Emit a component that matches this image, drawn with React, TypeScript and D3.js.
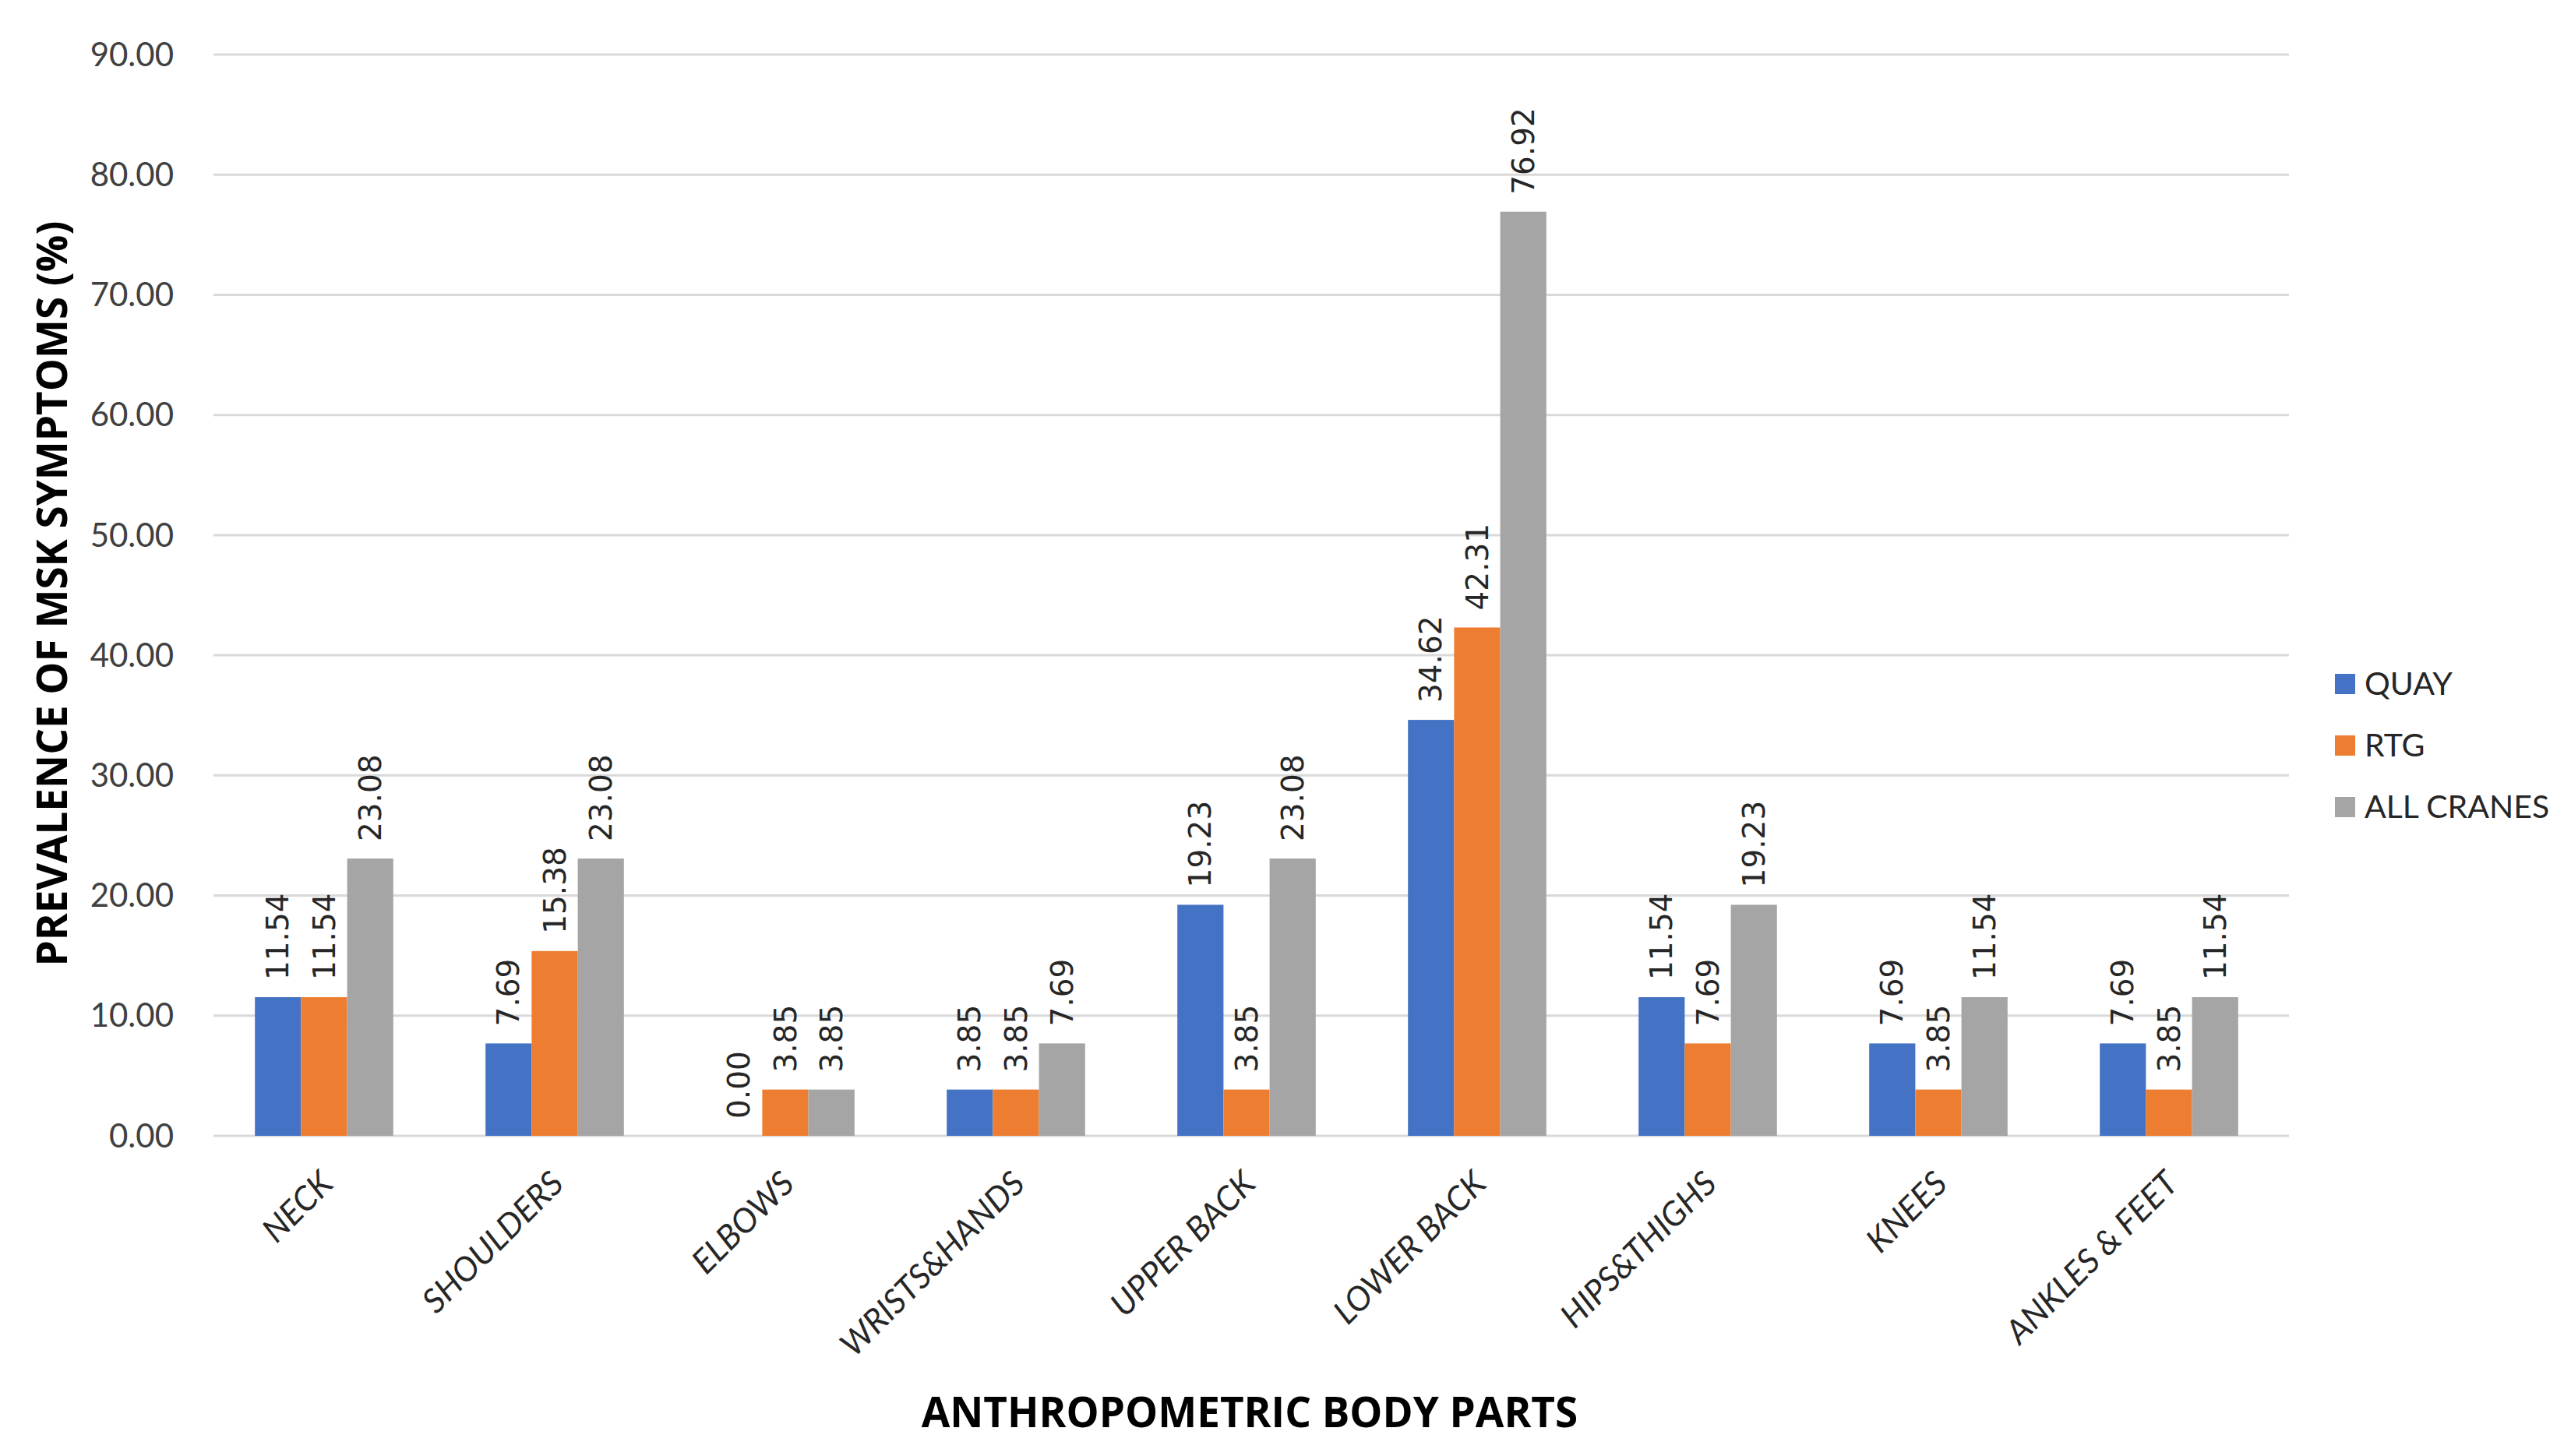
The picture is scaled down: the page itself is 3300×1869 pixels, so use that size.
import React from "react";
import * as d3 from "d3";

const categories = ["NECK", "SHOULDERS", "ELBOWS", "WRISTS&HANDS", "UPPER BACK", "LOWER BACK", "HIPS&THIGHS", "KNEES", "ANKLES & FEET"];
const seriesNames = ["QUAY", "RTG", "ALL CRANES"];
const quay = [11.54, 7.69, 0.0, 3.85, 19.23, 34.62, 11.54, 7.69, 7.69];
const rtg = [11.54, 15.38, 3.85, 3.85, 3.85, 42.31, 7.69, 3.85, 3.85];
const allCranes = [23.08, 23.08, 3.85, 7.69, 23.08, 76.92, 19.23, 11.54, 11.54];
const yTicks = [0, 10, 20, 30, 40, 50, 60, 70, 80, 90];
const colors = ["#4472C4", "#ED7D31", "#A5A5A5"];

const W = 3300;
const H = 1869;
const plot = { left: 274, right: 2938, top: 70, bottom: 1458 };

const App: React.FC = () => {
  const series = [quay, rtg, allCranes];

  const x = d3.scaleBand<string>().domain(categories).range([plot.left - 6, plot.right - 6]).paddingInner(0.4).paddingOuter(0.2);
  const xs = d3.scaleBand<string>().domain(seriesNames).range([0, x.bandwidth()]);
  const y = d3.scaleLinear().domain([0, 90]).range([plot.bottom, plot.top]);

  const tickFont = "Lato, 'Open Sans', sans-serif";
  const valueFont = "'DejaVu Sans', Verdana, sans-serif";

  return (
    <svg width={W} height={H} style={{ position: "absolute", left: 0, top: 0, background: "#fff" }}>
      {/* gridlines + y tick labels */}
      {yTicks.map((t) => (
        <g key={t}>
          <line x1={plot.left} x2={plot.right} y1={y(t)} y2={y(t)} stroke="#D9D9D9" strokeWidth={3} />
          <text x={223} y={y(t)} dy="0.35em" textAnchor="end" fontSize={42} fontFamily={tickFont} fill="#404040">
            {t.toFixed(2)}
          </text>
        </g>
      ))}

      {/* bars */}
      {categories.map((c, i) => (
        <g key={c} transform={`translate(${x(c)},0)`}>
          {series.map((s, j) => {
            const bx = xs(seriesNames[j]) as number;
            const v = s[i];
            return (
              <g key={j}>
                <rect x={bx} y={y(v)} width={xs.bandwidth()} height={y(0) - y(v)} fill={colors[j]} />
                <text
                  transform={`translate(${bx + xs.bandwidth() / 2},${y(v) - 22}) rotate(-90)`}
                  dy="0.35em"
                  fontSize={39}
                  fontFamily={valueFont}
                  fill="#262626"
                >
                  {v.toFixed(2)}
                </text>
              </g>
            );
          })}
          {/* category label */}
          <text
            transform={`translate(${x.bandwidth() / 2 + 14},${plot.bottom + 64}) rotate(-45)`}
            textAnchor="end"
            fontSize={43}
            fontStyle="italic"
            fontFamily={tickFont}
            fill="#262626"
          >
            {c}
          </text>
        </g>
      ))}

      {/* axis titles */}
      <text
        transform={`translate(86,762) rotate(-90)`}
        textAnchor="middle"
        fontSize={53}
        fontWeight="bold"
        fontFamily="'Open Sans', sans-serif"
        fill="#000"
      >
        PREVALENCE OF MSK SYMPTOMS (%)
      </text>
      <text x={1604} y={1832} textAnchor="middle" fontSize={53} fontWeight="bold" fontFamily="'Open Sans', sans-serif" fill="#000">
        ANTHROPOMETRIC BODY PARTS
      </text>

      {/* legend */}
      {seriesNames.map((n, j) => (
        <g key={n} transform={`translate(2997,${878 + j * 79})`}>
          <rect x={0} y={-13} width={26} height={26} fill={colors[j]} />
          <text x={38} y={0} dy="0.35em" fontSize={41} fontFamily={tickFont} fill="#262626">
            {n}
          </text>
        </g>
      ))}
    </svg>
  );
};

export default App;
